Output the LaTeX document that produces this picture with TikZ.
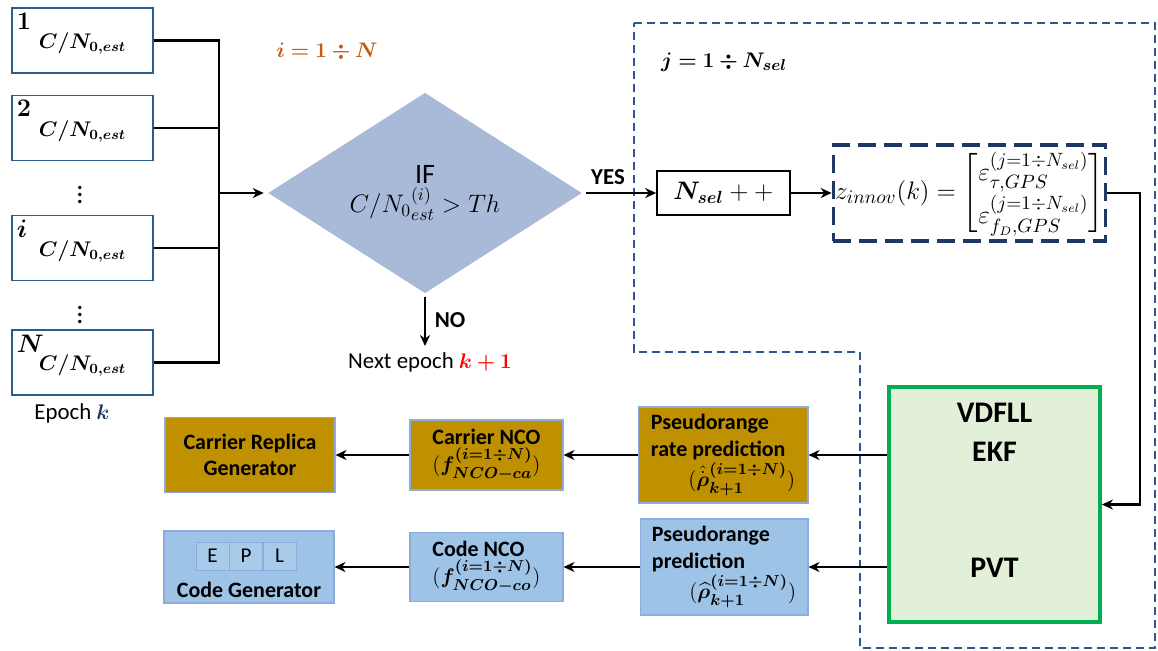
\documentclass[tikz,border=0pt]{standalone}
\usepackage{amsmath,amssymb,bm}
\usepackage{fontspec}
\setmainfont{Carlito}
\usepackage{tikz}
\usetikzlibrary{shapes.geometric, arrows.meta, positioning, calc}
\definecolor{gpsgold}{HTML}{BF9000}
\definecolor{gpsblue}{HTML}{9DC3E6}
\definecolor{gpscell}{HTML}{A9CBEA}
\definecolor{gpsedge}{HTML}{8FAADC}
\definecolor{gpsnavy}{HTML}{1F3864}
\definecolor{gpsdash}{HTML}{2F5597}
\definecolor{gpsgreen}{HTML}{00B050}
\definecolor{gpsmint}{HTML}{E2F0D9}
\definecolor{gpsorange}{HTML}{C55A11}
\definecolor{gpsdiam}{HTML}{A9BAD9}
\definecolor{gpsframe}{HTML}{2E5C8A}

\begin{document}
\begin{tikzpicture}[
    x=0.02cm, y=-0.02cm,
    cnbox/.style={rectangle, draw=gpsframe, line width=0.9pt, minimum width=2.82cm, minimum height=1.3cm, text height=0.42cm, text depth=0.1cm, font=\fontsize{11.5}{14}\selectfont},
    decision/.style={diamond, fill=gpsdiam, draw=white, line width=1.5pt, minimum width=6.4cm, minimum height=3.7cm, inner sep=0pt, align=center},
    block/.style={rectangle, draw=gpsedge, line width=0.6pt, font=\fontsize{12.5}{15}\selectfont\bfseries, align=left, inner sep=2pt},
    cell/.style={rectangle, draw=gpsedge, fill=gpscell, line width=0.5pt, minimum width=0.66cm, minimum height=0.56cm, font=\fontsize{12}{14}\selectfont},
    bigtxt/.style={font=\fontsize{17}{20}\selectfont\bfseries},
    tag/.style={font=\fontsize{13}{15}\selectfont\bfseries},
    arrow/.style={-{Stealth[length=2.2mm, width=2mm]}, line width=1.2pt},
    wire/.style={line width=1.2pt}
]
\fill[white] (0,0) rectangle (1158,650);
\useasboundingbox (0,0) rectangle (1158,650);

% selected-satellite loop region
\draw[gpsdash, line width=1.3pt, dash pattern=on 0.16cm off 0.1cm]
    (634,23) -- (1155,23) -- (1155,648) -- (860,648) -- (860,352) -- (634,352) -- cycle;

% C/N0 estimates of epoch k
\foreach \n/\y in {1/40.5, 2/128, i/248, N/362.5}
  \node[cnbox, label={[anchor=north west, inner sep=3pt, font=\fontsize{14}{16}\selectfont]north west:$\bm{\n}$}] (b\n) at (82.5,\y) {$\bm{C/N_{0,est}}$};
\node[font=\fontsize{13}{15}\selectfont] (dotsa) at (80,190) {$\bm{\vdots}$};
\node[font=\fontsize{13}{15}\selectfont] (dotsb) at (80,310) {$\bm{\vdots}$};
\node[font=\fontsize{13}{15}\selectfont] (epoch) at (72,413) {Epoch {\color{gpsnavy}$\bm{k}$}};

\coordinate (bus) at (219,193);
\draw[wire] (b1.east) -| (bus) |- (bN.east);
\draw[wire] (b2.east) -- (b2.east -| bus);
\draw[wire] (bi.east) -- (bi.east -| bus);

% threshold test
\node[decision] (dec) at (425,193) {{\fontsize{16}{18}\selectfont IF}\\[1pt]{\fontsize{14.5}{16}\selectfont ${C/N_0}_{est}^{(i)} > Th$}};
\node[font=\fontsize{12.5}{15}\selectfont, text=gpsorange] (iloop) at (327,52) {$\bm{i = 1 \div N}$};
\draw[arrow] (bus) -- (dec.west);

\node[font=\fontsize{13}{15}\selectfont] (nxt) at (430,362) {Next epoch {\color{red}$\bm{k+1}$}};
\node[tag] (no) at (450,320) {NO};
\draw[arrow] (dec.south) -- (dec.south |- nxt.north);

\node[tag] (yes) at (608,177) {YES};
\node[font=\fontsize{13}{15}\selectfont, anchor=west] (jloop) at (655,62) {$\bm{j = 1 \div N_{sel}}$};

\node[rectangle, draw=black, line width=1pt, minimum width=2.66cm, minimum height=0.88cm, font=\fontsize{14}{16}\selectfont] (nsel) at (723.5,193) {$\bm{N_{sel}} + +$};
\draw[arrow] (dec.east) -- (nsel.west);

\node[draw=gpsnavy, line width=2pt, dash pattern=on 0.36cm off 0.16cm, minimum width=5.3cm, minimum height=1.92cm, inner sep=1pt, font=\fontsize{15}{17}\selectfont] (z) at (969.5,193)
  {$z_{innov}(k) = {\renewcommand\arraystretch{1.45}\begin{bmatrix} \varepsilon_{\tau,GPS}^{(j=1\div N_{sel})} \\ \varepsilon_{f_D,GPS}^{(j=1\div N_{sel})} \end{bmatrix}}$};
\draw[arrow] (nsel.east) -- (z.west);

% navigation filter
\node[rectangle, draw=gpsgreen, fill=gpsmint, line width=2.2pt, minimum width=4.22cm, minimum height=4.7cm] (ekf) at (994.5,504.5) {};
\node[bigtxt] (vdfll) at (994.5,413) {VDFLL};
\node[bigtxt] (ekftxt) at (994.5,452) {EKF};
\node[bigtxt] (pvt) at (994.5,568) {PVT};
\draw[arrow] (z.east) -- ++(33,0) |- (ekf.east);

% prediction and NCO chains
\node[block, fill=gpsgold, minimum width=3.4cm, minimum height=1.92cm] (prate) at (723,455) {Pseudorange\\rate prediction\\[1pt]\hspace*{0.75cm}$(\hat{\dot{\bm{\rho}}}_{\bm{k+1}}^{\bm{(i=1\div N)}})$};
\node[block, fill=gpsblue, minimum width=3.36cm, minimum height=1.92cm] (prange) at (724,567) {Pseudorange\\prediction\\[1pt]\hspace*{0.75cm}$(\widehat{\bm{\rho}}_{\bm{k+1}}^{\bm{(i=1\div N)}})$};
\node[block, fill=gpsgold, minimum width=3.06cm, minimum height=1.4cm] (carnco) at (486.5,455) {Carrier NCO\\$(\bm{f_{NCO-ca}^{(i=1\div N)}})$};
\node[block, fill=gpsblue, minimum width=3.06cm, minimum height=1.38cm] (codenco) at (486.5,567) {Code NCO\\$(\bm{f_{NCO-co}^{(i=1\div N)}})$};
\node[block, fill=gpsgold, minimum width=3.4cm, minimum height=1.5cm, align=center] (carrep) at (250,455) {Carrier Replica\\Generator};
\node[block, fill=gpsblue, minimum width=3.4cm, minimum height=1.44cm, label={[anchor=south, font=\fontsize{12.5}{15}\selectfont\bfseries]south:Code Generator}] (codegen) at (249,567) {};
\node[cell] (ce) at (212.5,556) {E};
\node[cell] (cp) at (246,556) {P};
\node[cell] (cl) at (279.5,556) {L};

\draw[arrow] (ekf.west |- prate.east) -- (prate.east);
\draw[arrow] (ekf.west |- prange.east) -- (prange.east);
\draw[arrow] (prate.west) -- (carnco.east);
\draw[arrow] (prange.west) -- (codenco.east);
\draw[arrow] (carnco.west) -- (carrep.east);
\draw[arrow] (codenco.west) -- (codegen.east);
\end{tikzpicture}
\end{document}
